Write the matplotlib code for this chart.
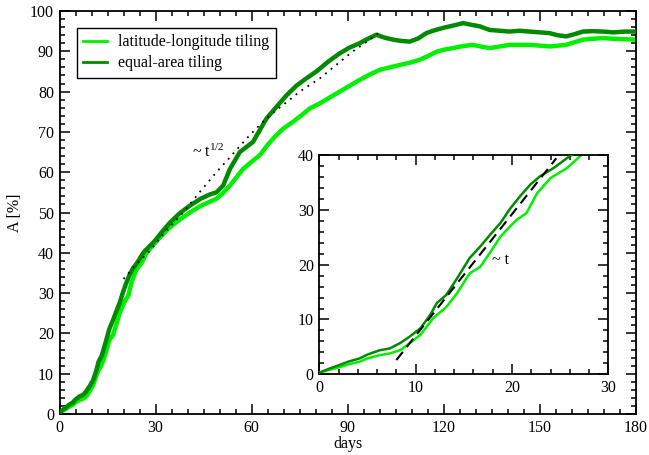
import matplotlib
matplotlib.use("Agg")
import matplotlib.pyplot as plt
from matplotlib.ticker import MultipleLocator

plt.rcParams['font.family'] = ['Liberation Serif', 'DejaVu Serif']
plt.rcParams['mathtext.default'] = 'regular'

FS = 11.5

# equal-area tiling (dark green)
days_ea = [0, 1, 2.1, 3, 4.2, 5, 6.3, 7.3, 8.4, 9.4, 10.5, 11.5, 12.2, 13.2, 14.3,
           15.6, 16.7, 17.8, 18.8, 19.8, 20.8, 21.9, 22.9, 24.3, 26.0, 26.7, 28.2,
           29.8, 32, 34.5, 37.5, 40.7, 44, 47, 49, 51.1, 53.2, 56.3, 60.4, 62.5,
           64.6, 67.5, 70.9, 74, 77.1, 80.2, 84, 87.5, 90.5, 93.7, 96, 98.9, 101.5,
           104.1, 106.5, 109.3, 112, 114.5, 117, 119.7, 123, 126, 128.5, 131.2,
           134.3, 137.5, 140.5, 143.5, 146.8, 150, 153, 155.5, 158.2, 161, 163.4,
           166.5, 169.6, 173, 176.5, 180]
area_ea = [0.3, 1.0, 1.7, 2.3, 2.9, 3.6, 4.4, 4.7, 5.7, 6.9, 8.4, 10.8, 13.0, 14.5, 17.5,
           21.2, 23.3, 25.6, 27.6, 30.2, 32.4, 34.6, 36.1, 37.6, 39.8, 40.5, 41.7,
           43.0, 45.2, 47.5, 49.8, 51.7, 53.4, 54.5, 55.0, 56.7, 60.8, 65.0, 67.5, 70.4,
           73.3, 76.0, 79.1, 81.5, 83.3, 85.0, 87.5, 89.5, 90.9, 92.0, 93.0, 94.1, 93.4,
           92.9, 92.6, 92.4, 93.2, 94.5, 95.2, 95.8, 96.4, 97.0, 96.6, 96.2,
           95.3, 95.1, 94.9, 95.1, 94.9, 94.7, 94.5, 94.0, 93.7, 94.3, 94.9,
           95.0, 94.9, 94.7, 94.9, 94.9]

# latitude-longitude tiling (light green)
days_ll = [0, 1, 2.1, 3, 4.2, 5, 6.3, 7.3, 8.4, 9.4, 10.5, 11.8, 13.2, 14.3, 15.6,
           16.7, 17.8, 18.8, 19.7, 20.5, 21.5, 22.6, 24.0, 25.7, 27.2, 28.8, 31,
           34, 37.5, 40.7, 44, 47, 49, 51, 53.2, 55, 57.3, 60, 62.5, 65, 67.7, 70,
           72.9, 75.5, 78.1, 81.3, 84.5, 87.5, 90.5, 93.7, 97, 100, 103, 106.2,
           109.5, 112.4, 115, 117.7, 120, 122.8, 126, 129, 131.5, 134.3, 137.5,
           140.5, 143.5, 146.8, 150, 153, 155.5, 158.2, 161, 163.4, 166.5, 169.6,
           173, 176.5, 180]
area_ll = [0.3, 0.8, 1.3, 1.8, 2.3, 2.9, 3.5, 3.8, 4.4, 5.7, 7.2, 10.2, 12.3, 14.8, 18.4,
           19.6, 22.4, 25.1, 26.8, 28.2, 29.4, 33.0, 35.8, 37.6, 40.0, 41.5, 43.5,
           46.0, 48.2, 50.0, 51.6, 52.7, 53.4, 54.8, 56.7, 58.5, 60.8, 62.6, 64.2, 66.8,
           69.2, 70.9, 72.5, 74.1, 75.8, 77.1, 78.6, 80.0, 81.4, 82.9, 84.3, 85.4, 86.0,
           86.6, 87.2, 87.9, 88.8, 89.9, 90.4, 90.8, 91.3, 91.6, 91.2, 90.8, 91.2,
           91.6, 91.6, 91.6, 91.4, 91.2, 91.4, 91.6, 92.3, 92.9, 93.1, 93.3,
           93.1, 93.0, 92.9]

# ~ t^1/2 guide (dotted) and ~ t guide (dashed, inset)
sqrt_days = [20, 24, 28.2, 33, 38.6, 43.8, 49, 54.2, 59.4, 64.6, 69.8, 75, 81.3, 86.5, 91.6, 96.9, 100]
sqrt_area = [33.5, 37.2, 40.5, 45.2, 50.0, 55.1, 60.0, 64.6, 69.2, 73.4, 76.7, 80.0, 83.3, 86.7, 90.0, 92.9, 94.8]
lin_days = [8.0, 24.6]
lin_area = [2.6, 39.4]

light = '#00f000'
dark = '#008a00'

fig = plt.figure(figsize=(6.49, 4.55), dpi=100)
ax = fig.add_axes([0.0917, 0.0901, 0.8883, 0.8857])

ax.plot(days_ll, area_ll, color=light, lw=3.2, label='latitude-longitude tiling', zorder=2)
ax.plot(days_ea, area_ea, color=dark, lw=3.2, label='equal-area tiling', zorder=3)
ax.plot(sqrt_days, sqrt_area, color='black', lw=1.3, ls=(0, (1, 3)), zorder=4)
ax.text(46.5, 65.0, r'~ t$^{1/2}$', fontsize=FS, ha='center', va='center')

ax.set_xlim(0, 180)
ax.set_ylim(0, 100)
ax.xaxis.set_major_locator(MultipleLocator(30))
ax.xaxis.set_minor_locator(MultipleLocator(5))
ax.yaxis.set_major_locator(MultipleLocator(10))
ax.yaxis.set_minor_locator(MultipleLocator(2))
ax.tick_params(which='both', direction='in', top=True, right=True, labelsize=FS, width=1.1)
ax.tick_params(which='major', length=7, pad=4)
ax.tick_params(which='minor', length=3.5)
for s in ax.spines.values():
    s.set_linewidth(1.3)
ax.set_xlabel('days', fontsize=FS, labelpad=0)
ax.set_ylabel('A [%]', fontsize=FS, labelpad=5)

leg = ax.legend(loc='upper left', bbox_to_anchor=(0.03, 0.958), borderaxespad=0,
                fontsize=FS, handlelength=1.5, handletextpad=0.7, labelspacing=0.3,
                fancybox=False, framealpha=1, edgecolor='black', borderpad=0.4)
leg.get_frame().set_linewidth(1.0)
for h in leg.get_lines():
    h.set_linewidth(2)

# inset
ins = fig.add_axes([0.492, 0.1774, 0.4453, 0.4819])
ins.plot(days_ll, area_ll, color=light, lw=1.8, zorder=2)
ins.plot(days_ea, area_ea, color=dark, lw=1.8, zorder=3)
ins.plot(lin_days, lin_area, color='black', lw=1.5, ls=(0, (5, 3)), zorder=4)
ins.text(18.8, 20.8, '~ t', fontsize=FS, ha='center', va='center')
ins.set_xlim(0, 30)
ins.set_ylim(0, 40)
ins.xaxis.set_major_locator(MultipleLocator(10))
ins.xaxis.set_minor_locator(MultipleLocator(2))
ins.yaxis.set_major_locator(MultipleLocator(10))
ins.yaxis.set_minor_locator(MultipleLocator(2))
ins.tick_params(which='both', direction='in', top=True, right=True, labelsize=FS, width=1.1)
ins.tick_params(which='major', length=7, pad=4)
ins.tick_params(which='minor', length=3.5)
for s in ins.spines.values():
    s.set_linewidth(1.3)

fig.savefig('out.png', dpi=100)
